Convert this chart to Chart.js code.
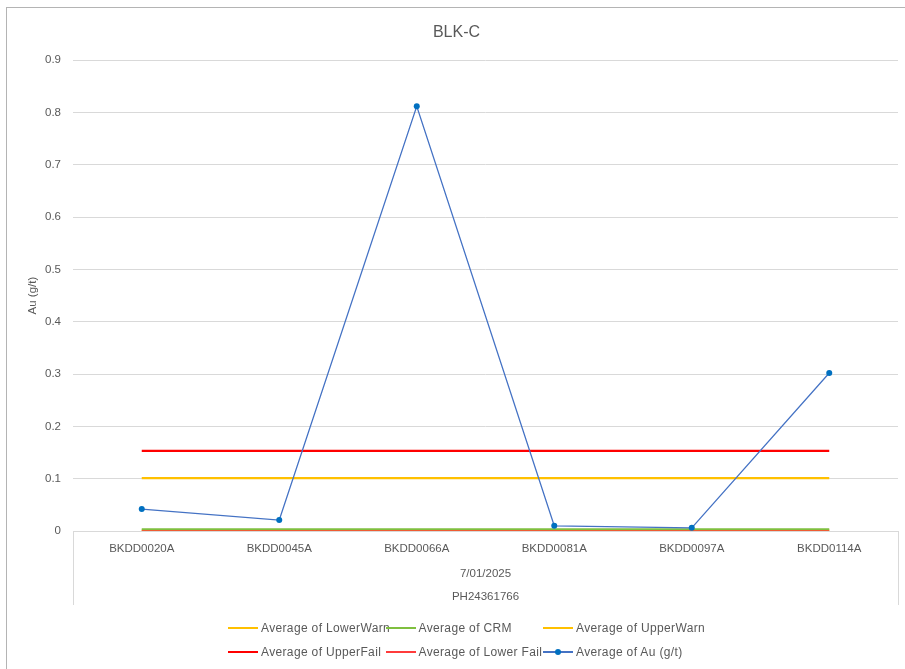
<!DOCTYPE html>
<html>
<head>
<meta charset="utf-8">
<title>BLK-C</title>
<script src="https://cdn.jsdelivr.net/npm/chart.js@4/dist/chart.umd.min.js"></script>
<style>
  html, body { margin: 0; padding: 0; background: #fff; }
  #wrap { position: relative; width: 905px; height: 669px; overflow: hidden; }
  #frame { position: absolute; left: 6px; top: 7px; width: 920px; height: 700px;
           border-left: 1px solid #b4b4b4; border-top: 1px solid #b4b4b4; }
  #qc-legend { position: absolute; left: 228px; top: 616px;
               display: grid; grid-template-columns: 157.5px 157.5px 157.5px;
               font-family: 'Liberation Sans', Arial, sans-serif; font-size: 12px;
               letter-spacing: 0.35px; color: #595959; }
  .qc-item { display: flex; align-items: center; height: 24px; white-space: nowrap; }
  .qc-swatch { position: relative; width: 30px; margin-right: 3px; flex: none; }
  .qc-dot { position: absolute; left: 12px; width: 6px; height: 6px; border-radius: 50%; }
</style>
</head>
<body>
<div id="wrap">
  <div id="frame"></div>
  <canvas id="qc-chart"></canvas>
  <div id="qc-legend"></div>
</div>
<script>
const CHART_TITLE = 'BLK-C';
const Y_TITLE = 'Au (g/t)';

const SAMPLES = ['BKDD0020A', 'BKDD0045A', 'BKDD0066A', 'BKDD0081A', 'BKDD0097A', 'BKDD0114A'];
const DATES = ['7/01/2025'];
const BATCHES = ['PH24361766'];

const LOWER_WARN = [0.001, 0.001, 0.001, 0.001, 0.001, 0.001];
const CRM = [0.003, 0.003, 0.003, 0.003, 0.003, 0.003];
const UPPER_WARN = [0.101, 0.101, 0.101, 0.101, 0.101, 0.101];
const UPPER_FAIL = [0.153, 0.153, 0.153, 0.153, 0.153, 0.153];
const LOWER_FAIL = [0, 0, 0, 0, 0, 0];
const AU = [0.042, 0.021, 0.812, 0.010, 0.006, 0.302];

const Y_MIN = 0;
const Y_MAX = 0.9;
const Y_STEP = 0.1;

const SERIES = [
  { label: 'Average of LowerWarn', data: LOWER_WARN, color: '#ffc000', width: 2.25 },
  { label: 'Average of CRM', data: CRM, color: '#7fbf3f', width: 2.25 },
  { label: 'Average of UpperWarn', data: UPPER_WARN, color: '#ffc000', width: 2.25 },
  { label: 'Average of UpperFail', data: UPPER_FAIL, color: '#ff0000', width: 2.25 },
  { label: 'Average of Lower Fail', data: LOWER_FAIL, color: '#ff3b3b', width: 1.5 },
  { label: 'Average of Au (g/t)', data: AU, color: '#4472c4', width: 1.25, marker: '#0070c0' },
];

const TEXT = '#595959';
const GRID = '#d9d9d9';
const FONT = "'Liberation Sans', Arial, sans-serif";

Chart.defaults.font.family = FONT;
Chart.defaults.color = TEXT;

function buildDatasets() {
  return SERIES.map((s, i) => ({
    label: s.label,
    data: s.data,
    borderColor: s.color,
    backgroundColor: s.marker || s.color,
    borderWidth: s.width,
    pointRadius: s.marker ? 3 : 0,
    pointBorderWidth: 0,
    pointBackgroundColor: s.marker,
    tension: 0,
    fill: false,
    order: SERIES.length - i,
  }));
}

function buildLegend() {
  const box = document.getElementById('qc-legend');
  SERIES.forEach((s) => {
    const item = document.createElement('div');
    item.className = 'qc-item';
    const swatch = document.createElement('span');
    swatch.className = 'qc-swatch';
    swatch.style.height = Math.max(1.5, s.width - 0.25) + 'px';
    swatch.style.background = s.color;
    if (s.marker) {
      const dot = document.createElement('span');
      dot.className = 'qc-dot';
      dot.style.background = s.marker;
      dot.style.top = (-3 + 0.75) + 'px';
      swatch.append(dot);
    }
    const text = document.createElement('span');
    text.textContent = s.label;
    item.append(swatch, text);
    box.append(item);
  });
}

// outer edges of the multi-level category axis
const groupEdges = {
  id: 'groupEdges',
  afterDraw(chart) {
    const { ctx, chartArea } = chart;
    const bottom = chart.scales.x3.bottom;
    ctx.save();
    ctx.strokeStyle = GRID;
    ctx.lineWidth = 1;
    [chartArea.left, chartArea.right].forEach((x) => {
      ctx.beginPath();
      ctx.moveTo(Math.round(x) + 0.5, chartArea.bottom);
      ctx.lineTo(Math.round(x) + 0.5, bottom);
      ctx.stroke();
    });
    ctx.restore();
  },
};

const tickFont = { size: 11.5 };

new Chart(document.getElementById('qc-chart'), {
  type: 'line',
  data: { labels: SAMPLES, datasets: buildDatasets() },
  plugins: [groupEdges],
  options: {
    responsive: true,
    maintainAspectRatio: false,
    animation: false,
    layout: { padding: { left: 15, right: 7, top: 0, bottom: 64 } },
    plugins: {
      legend: { display: false },
      tooltip: { enabled: false },
      title: {
        display: true,
        text: CHART_TITLE,
        color: TEXT,
        font: { size: 16, weight: 'normal' },
        padding: { top: 23, bottom: 18 },
      },
    },
    scales: {
      x: {
        weight: 0,
        offset: true,
        grid: { display: true, drawOnChartArea: false, drawTicks: false },
        border: { display: true, color: GRID, width: 1 },
        ticks: { font: tickFont, color: TEXT, padding: 11, maxRotation: 0, autoSkip: false },
        afterFit: (s) => { s.height = 30; },
      },
      x2: {
        type: 'category',
        position: 'bottom',
        weight: 1,
        labels: DATES,
        offset: true,
        grid: { display: false, drawTicks: false },
        border: { display: false },
        ticks: { font: tickFont, color: TEXT, padding: 6, maxRotation: 0 },
        afterFit: (s) => { s.height = 24; },
      },
      x3: {
        type: 'category',
        position: 'bottom',
        weight: 2,
        labels: BATCHES,
        offset: true,
        grid: { display: false, drawTicks: false },
        border: { display: false },
        ticks: { font: tickFont, color: TEXT, padding: 5, maxRotation: 0 },
        afterFit: (s) => { s.height = 20; },
      },
      y: {
        min: Y_MIN,
        max: Y_MAX,
        grid: { color: GRID, drawTicks: false },
        border: { display: false },
        ticks: {
          stepSize: Y_STEP,
          font: tickFont,
          color: TEXT,
          padding: 12,
          callback: (v) => (v === 0 ? '0' : v.toFixed(1)),
        },
        title: {
          display: true,
          text: Y_TITLE,
          color: TEXT,
          font: { size: 11.5 },
          padding: { top: 11, bottom: 0 },
        },
        afterFit: (s) => { s.width = 58; },
      },
    },
  },
});

buildLegend();
</script>
</body>
</html>
